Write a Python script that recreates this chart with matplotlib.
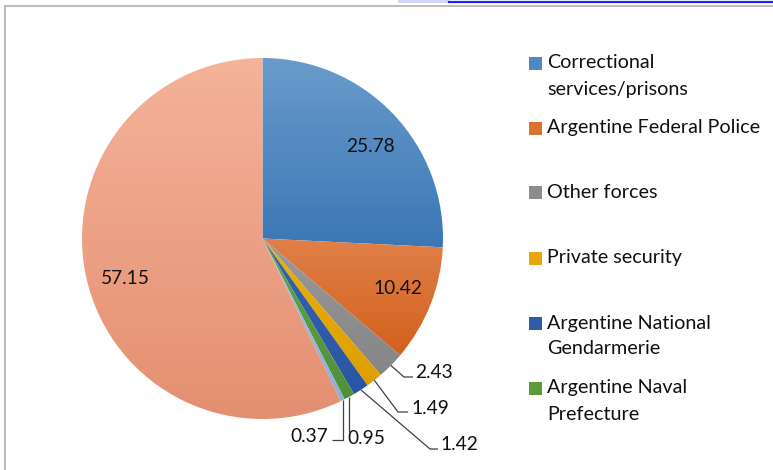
import numpy as np
import matplotlib
matplotlib.use("Agg")
import matplotlib.pyplot as plt
from matplotlib.colors import to_rgb

# data (clockwise from 12 o'clock)
values = [25.78, 10.42, 2.43, 1.49, 1.42, 0.95, 0.37, 57.15]
value_labels = ["25.78", "10.42", "2.43", "1.49", "1.42", "0.95", "0.37", "57.15"]
legend_labels = ["Correctional\nservices/prisons", "Argentine Federal Police",
                 "Other forces", "Private security",
                 "Argentine National\nGendarmerie", "Argentine Naval\nPrefecture"]

# gradient top / bottom colours per slice
col_top = ["#6a9bcc", "#e08048", "#9a9a9a", "#eeb100", "#3664b1", "#63a641", "#9dbee3", "#f4b39a"]
col_bot = ["#3b77b5", "#d2611d", "#858585", "#dc9f00", "#2a55a2", "#518f39", "#8db0da", "#e48f71"]
colors = ["#4f88c2", "#d9722f", "#8c8c8c", "#e5a806", "#2f5ca8", "#5a9a3a", "#97b7de", "#eea083"]

W, H = 773, 470
CX, CY, R = 262.5, 238.5, 180.5   # pie centre / radius in pixels

plt.rcParams['font.family'] = ['Lato', 'DejaVu Sans']
FS = 14.2
FS_LAB = 13.8

fig = plt.figure(figsize=(W / 100, H / 100), dpi=100)
ax = fig.add_axes([0, 0, 1, 1])


def d(px, py):
    # pixel -> data coords (pie radius = 1)
    return (px - CX) / R, (CY - py) / R


def f(px, py):
    # pixel -> figure fraction
    return px / W, 1 - py / H


wedges, _ = ax.pie(values, startangle=90, counterclock=False, radius=1, center=(0, 0),
                   colors=colors, wedgeprops=dict(linewidth=0))

# excel-like vertical gradient on each slice
for w, ct, cb in zip(wedges, col_top, col_bot):
    top = np.array(to_rgb(ct))
    bot = np.array(to_rgb(cb))
    t = np.linspace(0, 1, 200)[:, None, None]
    grad = top * (1 - t) + bot * t
    ext = w.get_path().get_extents()
    w.set_facecolor('none')
    im = ax.imshow(grad, extent=[ext.x0, ext.x1, ext.y0, ext.y1], origin='upper',
                   aspect='auto', interpolation='bilinear', zorder=1)
    im.set_clip_path(w)

# inside labels
inside = {0: (370, 147), 1: (398, 288), 7: (125, 278)}
for i, (px, py) in inside.items():
    x, y = d(px, py)
    ax.text(x, y, value_labels[i], ha='center', va='center', fontsize=FS_LAB, color='#111111', zorder=3)

# outside labels with leader lines
total = sum(values)
cum = np.cumsum([0] + values[:-1])
mids = np.deg2rad(90 - 360 * (cum + np.array(values) / 2) / total)

outside = {
    # idx: (elbow px, end px, text px, ha)
    2: ((404, 377), (413, 377), (415, 373), 'left'),
    3: ((398, 412), (408, 412), (411, 408), 'left'),
    4: ((430, 449), (438, 449), (440, 445), 'left'),
    5: (None, (350, 432), (347, 438), 'left'),
    6: ((341, 440), (332, 440), (328, 436), 'right'),
}
for i, (elbow, end, tpos, ha) in outside.items():
    sx, sy = np.cos(mids[i]), np.sin(mids[i])
    if elbow is None:
        ex, ey = d(*end)
        xs, ys = [sx, sx], [sy, ey]
    else:
        bx, by = d(*elbow)
        ex, ey = d(*end)
        if i == 6:
            bx = sx
        xs, ys = [sx, bx, ex], [sy, by, ey]
    ax.plot(xs, ys, color='#404040', lw=0.9, zorder=3, solid_capstyle='butt')
    tx, ty = d(*tpos)
    ax.text(tx, ty, value_labels[i], ha=ha, va='center', fontsize=FS_LAB, color='#111111', zorder=3)

ax.set_xlim(-CX / R, (W - CX) / R)
ax.set_ylim(-(H - CY) / R, CY / R)
ax.axis('off')

# legend (first six entries shown)
for k, lab in enumerate(legend_labels):
    ly = 63 + 65 * k
    x0, y0 = f(529, ly + 6.5)
    fig.patches.append(plt.Rectangle((x0, y0), 13 / W, 13 / H, transform=fig.transFigure,
                                     facecolor=colors[k], edgecolor='none'))
    for j, line in enumerate(lab.split("\n")):
        tx, ty = f(547, ly + 26 * j)
        fig.text(tx, ty, line, ha='left', va='center', fontsize=FS, color='#111111')

# chart frame
fig.lines.append(plt.Line2D([5 / W, 5 / W], [0, 1 - 5.5 / H], transform=fig.transFigure,
                            color='#bdbdbd', lw=1.5))
fig.lines.append(plt.Line2D([5 / W, 1], [1 - 5.5 / H, 1 - 5.5 / H], transform=fig.transFigure,
                            color='#bdbdbd', lw=1.5))
# clipped link underline above the chart
fig.lines.append(plt.Line2D([449 / W, 1], [1 - 1.8 / H, 1 - 1.8 / H], transform=fig.transFigure,
                            color='#2222ee', lw=1.6))
fig.patches.append(plt.Rectangle((398 / W, 1 - 3 / H), 51 / W, 3 / H, transform=fig.transFigure,
                                 facecolor='#d4d4f6', edgecolor='none'))

fig.savefig("out.png", dpi=100)
